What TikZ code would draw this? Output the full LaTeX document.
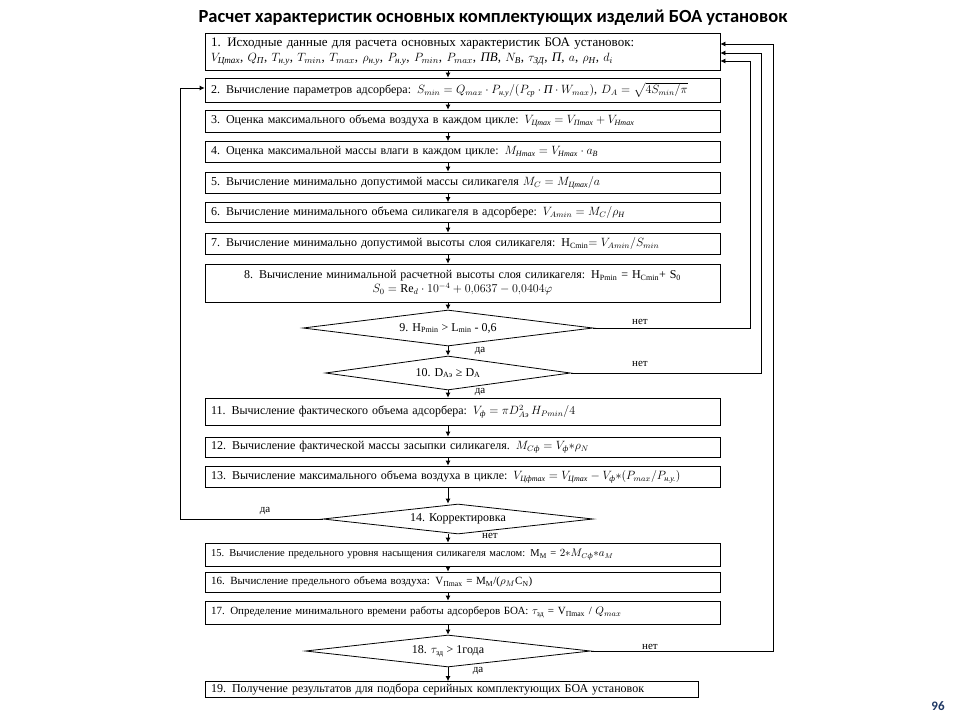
\documentclass[tikz,border=0pt]{standalone}
\usepackage{fontspec}
\usepackage{amsmath}
\setmainfont{Liberation Serif}
\newfontfamily\titlefont{Carlito}
\usetikzlibrary{shapes.geometric,arrows.meta}
\definecolor{pagenum}{RGB}{31,56,100}
\begin{document}
\begin{tikzpicture}
      [x=1pt,y=-1pt,line width=0.8pt,>={Latex[length=5pt,width=5pt]},
      font=\fontsize{12}{14}\selectfont,
      box node/.style={rectangle,draw,text width=503pt,inner xsep=6pt,
        inner ysep=2pt,align=left},
      test node/.style={diamond,draw,inner sep=0pt,aspect=8},
      label node/.style={font=\fontsize{11}{13}\selectfont}]
      \useasboundingbox (0,0) rectangle (960,720);
      \node (title) at (493,18) {\titlefont\bfseries\fontsize{18.5}{22}\selectfont
        Расчет характеристик основных комплектующих изделий БОА установок};
      \node (page) at (938,706) {\titlefont\bfseries\fontsize{13}{15}\selectfont\color{pagenum}96};
      % steps 1-8
      \node[box node,minimum height=37pt,font=\fontsize{13}{15}\selectfont] (b1) at (462.5,51.5)
        {1. Исходные данные для расчета основных характеристик БОА установок:\\
         $V_{\textit{Цmax}}$, $Q_{\textit{П}}$, $T_{\textit{н.у}}$, $T_{min}$, $T_{max}$,
         $\rho_{\textit{н.у}}$, $P_{\textit{н.у}}$, $P_{min}$, $P_{max}$, \textit{ПВ},
         $N_{\textit{В}}$, $\tau_{\textit{ЗД}}$, \textit{П}, $a$, $\rho_{\textit{Н}}$, $d_i$};
      \node[box node,minimum height=24pt] (b2) at (462.5,90)
        {2. Вычисление параметров адсорбера: $S_{min}=Q_{max}\cdot P_{\textit{н.у}}/(P_{\textit{ср}}\cdot\textit{П}\cdot W_{max})$,
         $D_A=\sqrt{4S_{min}/\pi}$};
      \node[box node,minimum height=22pt] (b3) at (462.5,121)
        {3. Оценка максимального объема воздуха в каждом цикле: $V_{\textit{Цmax}}=V_{\textit{Пmax}}+V_{\textit{Нmax}}$};
      \node[box node,minimum height=21pt] (b4) at (462.5,152)
        {4. Оценка максимальной массы влаги в каждом цикле: $M_{\textit{Нmax}}=V_{\textit{Нmax}}\cdot a_{\textit{В}}$};
      \node[box node,minimum height=21pt] (b5) at (462.5,182.5)
        {5. Вычисление минимально допустимой массы силикагеля $M_C=M_{\textit{Цmax}}/a$};
      \node[box node,minimum height=20pt] (b6) at (462.5,212.5)
        {6. Вычисление минимального объема силикагеля в адсорбере: $V_{Amin}=M_C/\rho_{\textit{Н}}$};
      \node[box node,minimum height=21pt] (b7) at (462.5,243.5)
        {7. Вычисление минимально допустимой высоты слоя силикагеля: Н\textsubscript{Cmin}$=V_{Amin}/S_{min}$};
      \node[box node,minimum height=38pt,align=center] (b8) at (462.5,283)
        {8. Вычисление минимальной расчетной высоты слоя силикагеля: Н\textsubscript{Pmin} = Н\textsubscript{Cmin}+ S\textsubscript{0}\\
         \mbox{$S_0=\mathrm{Re}_d\cdot 10^{-4}+0{,}0637-0{,}0404\varphi$}};
      % checks 9-10
      \node[test node,minimum width=290pt,minimum height=36pt] (d9) at (448,328)
        {9. Н\textsubscript{Pmin} > L\textsubscript{min} - 0,6};
      \node[test node,minimum width=245pt,minimum height=34pt] (d10) at (448,373)
        {10. D\textsubscript{Aэ} ≥ D\textsubscript{A}};
      % steps 11-13
      \node[box node,minimum height=27pt] (b11) at (462.5,411.5)
        {11. Вычисление фактического объема адсорбера: $V_{\textit{ф}}=\pi D_{A\textit{э}}^{2}\,H_{Pmin}/4$};
      \node[box node,minimum height=20pt] (b12) at (462.5,447)
        {12. Вычисление фактической массы засыпки силикагеля. $M_{C\textit{ф}}=V_{\textit{ф}}{*}\rho_N$};
      \node[box node,minimum height=21pt] (b13) at (462.5,476.5)
        {13. Вычисление максимального объема воздуха в цикле: $V_{\textit{Цфmax}}=V_{\textit{Цmax}}-V_{\textit{ф}}{*}(P_{max}/P_{\textit{н.у.}})$};
      \node[test node,minimum width=270pt,minimum height=30pt] (d14) at (458,519)
        {14. Корректировка};
      % steps 15-17
      \node[box node,minimum height=23pt,font=\fontsize{10.5}{13}\selectfont] (b15) at (462.5,554.5)
        {15. Вычисление предельного уровня насыщения силикагеля маслом: M\textsubscript{M} = $2{*}M_{C\textit{ф}}{*}a_M$};
      \node[box node,minimum height=20pt,font=\fontsize{11}{13}\selectfont] (b16) at (462.5,582)
        {16. Вычисление предельного объема воздуха: V\textsubscript{Пmax} = M\textsubscript{M}/($\rho_M$C\textsubscript{N})};
      \node[box node,minimum height=23pt,font=\fontsize{11}{13}\selectfont] (b17) at (462.5,612.5)
        {17. Определение минимального времени работы адсорберов БОА: $\tau_{\text{зд}}$ = V\textsubscript{Пmax} / $Q_{max}$};
      \node[test node,minimum width=285pt,minimum height=32pt] (d18) at (448,651)
        {18. $\tau_{\text{зд}}$ > 1года};
      \node[box node,minimum height=16pt,text width=481pt] (b19) at (451.5,689.5)
        {19. Получение результатов для подбора серийных комплектующих БОА установок};
      % main line
      \path[->] (b1.south -| d9) edge (b2.north -| d9);
      \path[->] (b2.south -| d9) edge (b3.north -| d9);
      \path[->] (b3.south -| d9) edge (b4.north -| d9);
      \path[->] (b4.south -| d9) edge (b5.north -| d9);
      \path[->] (b5.south -| d9) edge (b6.north -| d9);
      \path[->] (b6.south -| d9) edge (b7.north -| d9);
      \path[->] (b7.south -| d9) edge (b8.north -| d9);
      \path[->] (b8.south -| d9) edge (d9.north);
      \path[->] (d9.south) edge (d10.north);
      \path[->] (d10.south) edge (b11.north -| d10);
      \path[->] (b11.south -| d9) edge (b12.north -| d9);
      \path[->] (b12.south -| d9) edge (b13.north -| d9);
      \path[->] (b13.south -| d9) edge (d14.north -| d9);
      \path[->] (d14.south -| d9) edge (b15.north -| d9);
      \path[->] (b15.south -| d9) edge (b16.north -| d9);
      \path[->] (b16.south -| d9) edge (b17.north -| d9);
      \path[->] (b17.south -| d9) edge (d18.north);
      \path[->] (d18.south) edge (b19.north -| d18);
      % loops back
      \coordinate (r9) at (750,61);
      \coordinate (r10) at (761,53);
      \coordinate (r18) at (773,44);
      \coordinate (l14) at (180,88);
      \draw[->] (d9.east) -| (r9) -- (r9 -| b1.east);
      \draw[->] (d10.east) -| (r10) -- (r10 -| b1.east);
      \draw[->] (d18.east) -| (r18) -- (r18 -| b1.east);
      \draw[->] (d14.west) -| (l14) -- (l14 -| b2.west);
      % answers
      \node[label node] (n9) at (640,322) {нет};
      \node[label node] (y9) at (480,351) {да};
      \node[label node] (n10) at (640,364) {нет};
      \node[label node] (y10) at (480,392) {да};
      \node[label node] (y14) at (265,511) {да};
      \node[label node] (n14) at (490,536) {нет};
      \node[label node] (n18) at (650,647) {нет};
      \node[label node] (y18) at (478,671) {да};
    \end{tikzpicture}
\end{document}
